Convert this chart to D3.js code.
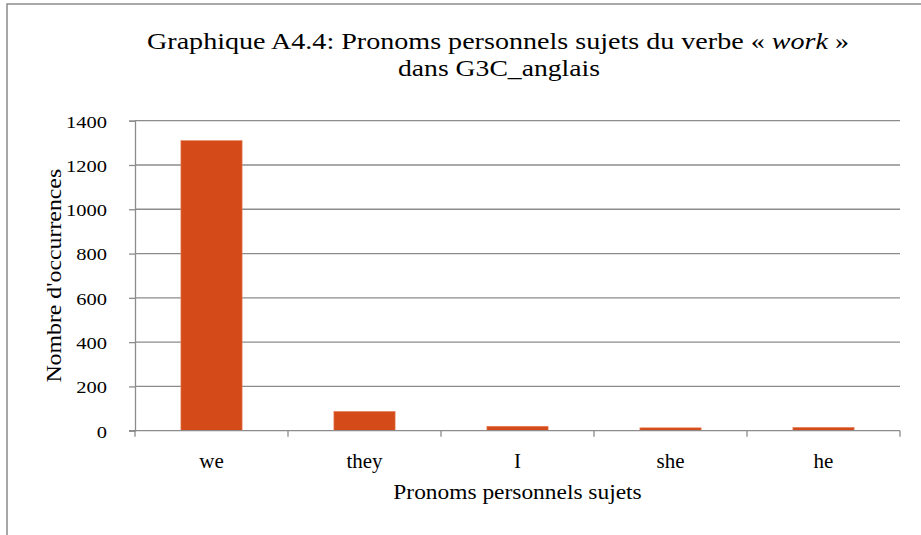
<!DOCTYPE html>
<html>
<head>
<meta charset="utf-8">
<script src="https://cdn.jsdelivr.net/npm/d3@7"></script>
<style>
  html, body { margin: 0; padding: 0; background: #fff; }
  svg { display: block; }
  text { font-family: "Liberation Serif", "Times New Roman", serif; fill: #000; }
</style>
</head>
<body>
<svg id="chart" width="921" height="535"></svg>
<script>
// Subject pronouns of the verb "work" in G3C_anglais
const categories = ["we", "they", "I", "she", "he"];
const occurrences = [1310, 87, 20, 13, 15];
const yTicks = [0, 200, 400, 600, 800, 1000, 1200, 1400];

const titleParts = ["Graphique A4.4: Pronoms personnels sujets du verbe « ", "work", " »"];
const subtitle = "dans G3C_anglais";
const xTitle = "Pronoms personnels sujets";
const yTitle = "Nombre d'occurrences";

const svg = d3.select("#chart");
const plot = { left: 135, right: 900, top: 120.7, bottom: 430.7 };
const gridColor = "#8c8c8c";

// widen a text element by a factor (the serif face here is narrower than a book face)
function widen(sel, factor) {
  sel.each(function () {
    const w = this.getComputedTextLength();
    d3.select(this).attr("textLength", w * factor).attr("lengthAdjust", "spacingAndGlyphs");
  });
}

// outer chart frame (continues past the visible area)
svg.append("rect")
  .attr("x", 7).attr("y", 4)
  .attr("width", 1000).attr("height", 600)
  .attr("fill", "none")
  .attr("stroke", gridColor)
  .attr("stroke-width", 1.5);

const x = d3.scaleBand()
  .domain(categories)
  .range([plot.left, plot.right])
  .paddingInner(0.6)
  .paddingOuter(0.3);

const y = d3.scaleLinear()
  .domain([0, 1400])
  .range([plot.bottom, plot.top]);

// horizontal gridlines
svg.append("g")
  .selectAll("line")
  .data(yTicks.filter(d => d > 0))
  .join("line")
  .attr("x1", plot.left).attr("x2", plot.right)
  .attr("y1", d => y(d)).attr("y2", d => y(d))
  .attr("stroke", gridColor)
  .attr("stroke-width", 1.3);

// bars
svg.append("g")
  .selectAll("rect")
  .data(categories.map((c, i) => ({ c, v: occurrences[i] })))
  .join("rect")
  .attr("x", d => x(d.c))
  .attr("y", d => y(d.v))
  .attr("width", x.bandwidth())
  .attr("height", d => y(0) - y(d.v))
  .attr("fill", "#d44a18")
  .attr("stroke", "#e8805a")
  .attr("stroke-width", 0.6);

// y axis
const yAxis = svg.append("g")
  .attr("transform", `translate(${plot.left},0)`)
  .call(d3.axisLeft(y).tickValues(yTicks).tickSize(6).tickPadding(22).tickFormat(d3.format("d")));
yAxis.select(".domain").attr("stroke", gridColor).attr("stroke-width", 1.3);
yAxis.selectAll(".tick line").attr("stroke", gridColor).attr("stroke-width", 1.3);
yAxis.selectAll(".tick text")
  .attr("font-family", "'Liberation Serif', serif")
  .attr("font-size", 16)
  .attr("fill", "#000")
  .attr("dy", "0.4em")
  .call(widen, 1.28);

// x axis with ticks on category boundaries
const xAxisG = svg.append("g").attr("transform", `translate(0,${plot.bottom})`);
xAxisG.append("line")
  .attr("x1", plot.left - 6).attr("x2", plot.right)
  .attr("stroke", gridColor).attr("stroke-width", 1.3);
const boundaries = categories.map(c => x(c) - x.step() * 0.3).concat([plot.right]);
xAxisG.selectAll("line.tick")
  .data(boundaries)
  .join("line")
  .attr("class", "tick")
  .attr("x1", d => d).attr("x2", d => d)
  .attr("y1", 0).attr("y2", 6)
  .attr("stroke", gridColor).attr("stroke-width", 1.3);
xAxisG.selectAll("text")
  .data(categories)
  .join("text")
  .attr("x", d => x(d) + x.bandwidth() / 2)
  .attr("y", 37)
  .attr("text-anchor", "middle")
  .attr("font-size", 20)
  .text(d => d)
  .call(widen, 1.05);

// axis titles
svg.append("text")
  .attr("x", (plot.left + plot.right) / 2)
  .attr("y", 499)
  .attr("text-anchor", "middle")
  .attr("font-size", 20)
  .text(xTitle)
  .call(widen, 1.17);

svg.append("text")
  .attr("transform", `translate(61,${(plot.top + plot.bottom) / 2}) rotate(-90)`)
  .attr("text-anchor", "middle")
  .attr("font-size", 20)
  .text(yTitle)
  .call(widen, 1.19);

// chart title
const t = svg.append("text")
  .attr("x", 498)
  .attr("y", 49)
  .attr("text-anchor", "middle")
  .attr("font-size", 24);
titleParts.forEach((s, i) => {
  t.append("tspan").attr("font-style", i === 1 ? "italic" : "normal").text(s);
});
t.attr("textLength", 702).attr("lengthAdjust", "spacingAndGlyphs");

svg.append("text")
  .attr("x", 499)
  .attr("y", 76)
  .attr("text-anchor", "middle")
  .attr("font-size", 24)
  .attr("textLength", 202)
  .attr("lengthAdjust", "spacingAndGlyphs")
  .text(subtitle);
</script>
</body>
</html>
